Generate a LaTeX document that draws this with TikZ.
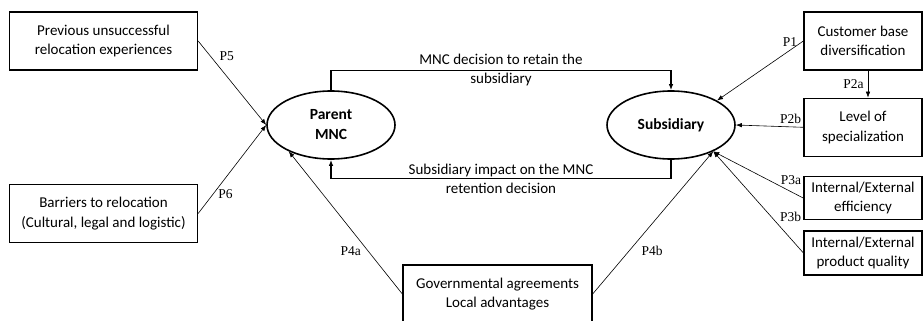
\documentclass[tikz,border=0pt]{standalone}
\usepackage{fontspec}
\setmainfont{Carlito}
\newfontfamily\pfont{Liberation Serif}
\usetikzlibrary{shapes.geometric, arrows.meta}
\usetikzlibrary{positioning}
\tikzset{>={Latex[length=6pt, width=4.5pt]}}
\begin{document}
\begin{tikzpicture}[x=1pt, y=-1pt,
 boxnode/.style={rectangle, draw=black, line width=1.3pt, minimum width=188pt, minimum height=58pt, align=center, font=\fontsize{15}{19.5}\selectfont, inner sep=2pt},
 rboxnode/.style={boxnode, minimum width=118pt},
 ellinode/.style={ellipse, draw=black, line width=1.6pt, minimum width=128pt, minimum height=68pt, inner sep=0pt, align=center, font=\fontsize{15.5}{20}\selectfont\bfseries},
 conn/.style={->, line width=0.6pt},
 loopline/.style={->, line width=1.2pt},
 plabel/.style={font=\pfont\fontsize{13.5}{14}\selectfont, inner sep=1pt},
 flowtext/.style={align=center, font=\fontsize{15}{18.5}\selectfont, inner sep=0pt},
 ]
 \useasboundingbox (0,0) rectangle (923,321);
 \clip (0,0) rectangle (923,321);
 %Nodes
 \node[boxnode]   (previous_node)   at (103.5,41)  {Previous unsuccessful\\relocation experiences};
 \node[boxnode]   (barriers_node)   at (103.5,213.5) {Barriers to relocation\\(Cultural, legal and logistic)};
 \node[ellinode]  (parent_node)     at (331,125)   {Parent\\MNC};
 \node[ellinode]  (subsidiary_node) at (671,125)   {Subsidiary};
 \node[rboxnode]  (customer_node)   at (863,41)    {Customer base\\diversification};
 \node[rboxnode]  (level_node)      [below=27pt of customer_node] {Level of\\specialization};
 \node[rboxnode, minimum height=43pt] (efficiency_node) [below=19pt of level_node] {Internal/External\\efficiency};
 \node[rboxnode, minimum height=44pt] (quality_node)    [below=10pt of efficiency_node] {Internal/External\\product quality};
 \node[boxnode, minimum width=189pt] (gov_node) at (497.5,294) {Governmental agreements\\Local advantages};

 %Lines
 \draw[loopline] (parent_node.north) -- ++(0,-20) -| node[flowtext, pos=0.25] (retain_text) {MNC decision to retain the\\subsidiary} (subsidiary_node.north);
 \draw[loopline] (subsidiary_node.south) -- ++(0,19) -| node[flowtext, pos=0.25] (impact_text) {Subsidiary impact on the MNC\\retention decision} (parent_node.south);
 \draw[conn] (previous_node.east) -- node[plabel, pos=0.18, right=8pt] (p5_label) {P5} (parent_node.west);
 \draw[conn] (barriers_node.east) -- node[plabel, pos=0.22, right=4pt] (p6_label) {P6} (parent_node.west);
 \draw[conn] (gov_node.west) -- node[plabel, pos=0.3, left=6pt] (p4a_label) {P4a} (parent_node.-148);
 \draw[conn] (gov_node.east) -- node[plabel, pos=0.305, right=11pt] (p4b_label) {P4b} (subsidiary_node.-32);
 \draw[conn] (customer_node.west) -- node[plabel, at start, anchor=east, xshift=-5pt, yshift=-1pt] (p1_label) {P1} (subsidiary_node.28);
 \draw[conn] ([xshift=5pt]customer_node.south) -- node[plabel, left=3pt] (p2a_label) {P2a} ([xshift=5pt]level_node.north);
 \draw[conn] (level_node.west) -- node[plabel, at start, anchor=east, xshift=-1pt, yshift=8pt] (p2b_label) {P2b} (subsidiary_node.east);
 \draw[conn] (efficiency_node.west) -- node[plabel, at start, anchor=east, xshift=-1pt, yshift=18pt] (p3a_label) {P3a} (subsidiary_node.-32);
 \draw[conn] (quality_node.west) -- node[plabel, at start, anchor=east, xshift=-1pt, yshift=36pt] (p3b_label) {P3b} (subsidiary_node.-32);
\end{tikzpicture}
\end{document}
